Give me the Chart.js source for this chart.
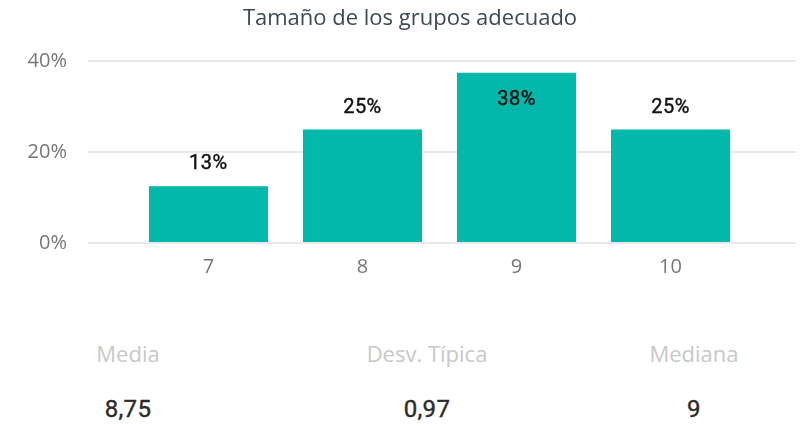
<!DOCTYPE html>
<html>
<head>
<meta charset="utf-8">
<script src="https://cdn.jsdelivr.net/npm/chart.js@4/dist/chart.umd.min.js"></script>
<style>
  html, body { margin: 0; padding: 0; background: #fff; }
  #wrap { position: relative; width: 805px; height: 426px; overflow: hidden; }
  #chartBox { position: absolute; left: 0; top: 0; width: 805px; height: 290px; }
  .stat { position: absolute; width: 240px; text-align: center; }
  .stat .lbl { position: absolute; left: 0; width: 100%; top: 338px; font: 22px/30px "Open Sans", sans-serif; color: #c8c8c8; white-space: nowrap; }
  .stat .val { position: absolute; left: 0; width: 100%; top: 395px; font: 400 24px/28px Roboto, sans-serif; color: #2b2b2b; white-space: nowrap; -webkit-text-stroke: 0.4px #2b2b2b; letter-spacing: 0.3px; }
</style>
</head>
<body>
<div id="wrap">
  <div id="chartBox"><canvas id="c"></canvas></div>
  <div id="stats"></div>
</div>
<script>
// ---- data ----
const chartTitle = "Tamaño de los grupos adecuado";
const categories = [7, 8, 9, 10];
const percentValues = [12.5, 25, 37.5, 25];
const yTicks = [0, 20, 40];
const statLabels = ["Media", "Desv. Típica", "Mediana"];
const statValues = ["8,75", "0,97", "9"];

// ---- stats (HTML text) ----
const statCenters = [128, 427, 694];
const statsEl = document.getElementById('stats');
statLabels.forEach((l, i) => {
  const d = document.createElement('div');
  d.className = 'stat';
  d.style.left = (statCenters[i] - 120) + 'px';
  d.style.top = '0px';
  d.innerHTML = '<div class="lbl"></div><div class="val"></div>';
  d.querySelector('.lbl').textContent = l;
  d.querySelector('.val').textContent = statValues[i];
  statsEl.appendChild(d);
});

// ---- data labels plugin ----
const barLabels = {
  id: 'barLabels',
  afterDatasetsDraw(chart) {
    const ctx = chart.ctx;
    const area = chart.chartArea;
    const meta = chart.getDatasetMeta(0);
    ctx.save();
    ctx.font = '400 20px Roboto, sans-serif';
    if ('letterSpacing' in ctx) ctx.letterSpacing = '0.5px';
    ctx.fillStyle = '#111';
    ctx.strokeStyle = '#111';
    ctx.lineWidth = 0.4;
    ctx.textAlign = 'center';
    ctx.textBaseline = 'middle';
    meta.data.forEach((bar, i) => {
      const txt = Math.round(percentValues[i]) + '%';
      let y = bar.y - 22;
      if (y - 10 < area.top) y = bar.y + 27;
      ctx.fillText(txt, bar.x, y);
      ctx.strokeText(txt, bar.x, y);
    });
    ctx.restore();
  }
};

new Chart(document.getElementById('c'), {
  type: 'bar',
  data: {
    datasets: [{
      data: categories.map((c, i) => ({ x: c, y: percentValues[i] })),
      backgroundColor: '#01B8AA',
      borderWidth: 0,
      categoryPercentage: 1,
      barPercentage: 0.773
    }]
  },
  options: {
    responsive: true,
    maintainAspectRatio: false,
    animation: false,
    layout: { padding: { left: 24, right: 9, top: 0, bottom: 0 } },
    plugins: {
      legend: { display: false },
      tooltip: { enabled: false },
      title: {
        display: true,
        text: chartTitle,
        color: '#3d4a50',
        font: { family: '"Open Sans", sans-serif', size: 22, weight: 'normal' },
        padding: { top: 6, bottom: 29 }
      }
    },
    scales: {
      x: {
        type: 'linear',
        min: 6.218,
        max: 10.815,
        offset: false,
        grid: { display: false, drawTicks: false },
        border: { display: false },
        afterBuildTicks: (s) => { s.ticks = categories.map(v => ({ value: v })); },
        afterFit: (s) => { s.height = 47; },
        ticks: {
          autoSkip: false,
          maxRotation: 0,
          padding: 12,
          color: '#777',
          font: { family: '"Open Sans", sans-serif', size: 20 },
          callback: (v) => String(v)
        }
      },
      y: {
        min: 0,
        max: 40,
        afterBuildTicks: (s) => { s.ticks = yTicks.map(v => ({ value: v })); },
        afterFit: (s) => { s.width = 64; },
        grid: { color: '#e9e9e9', lineWidth: 2, drawTicks: false },
        border: { display: false },
        ticks: {
          padding: 21,
          color: '#777',
          font: { family: '"Open Sans", sans-serif', size: 20 },
          callback: (v) => v + '%'
        }
      }
    }
  },
  plugins: [barLabels]
});
</script>
</body>
</html>
